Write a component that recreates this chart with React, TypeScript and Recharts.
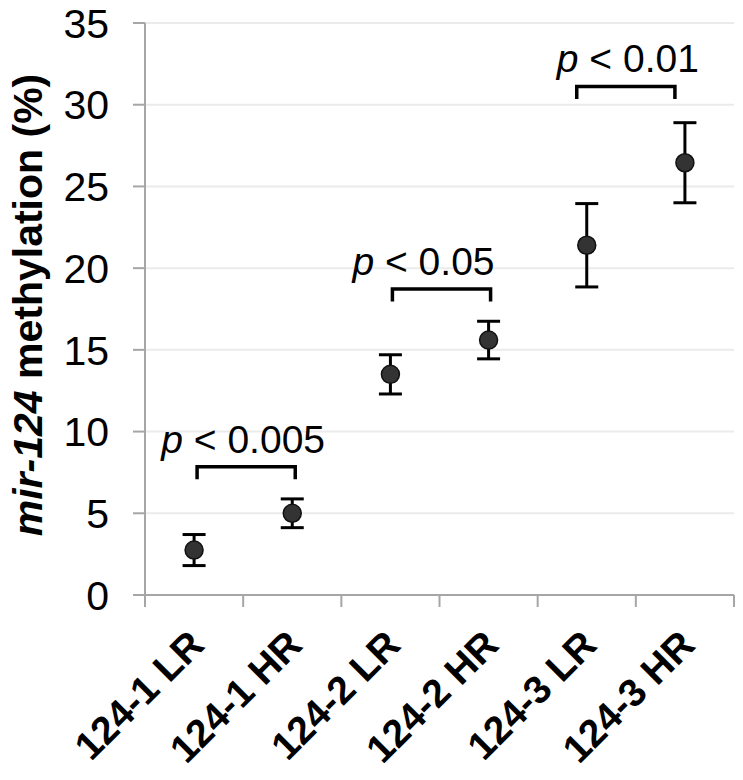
import React from 'react';
import {
  ComposedChart,
  Line,
  XAxis,
  YAxis,
  CartesianGrid,
  ErrorBar,
  ReferenceLine,
} from 'recharts';

// ---- data ----
const categories = ['124-1 LR', '124-1 HR', '124-2 LR', '124-2 HR', '124-3 LR', '124-3 HR'];
const meanValues = [2.75, 5.0, 13.5, 15.6, 21.4, 26.45];
const errorValues = [0.95, 0.88, 1.2, 1.15, 2.55, 2.45];
const yTickValues = [0, 5, 10, 15, 20, 25, 30, 35];
const bracketLeft = [0, 2, 4];
const bracketRight = [1, 3, 5];
const bracketLevels = [7.85, 18.72, 31.12];
const pThresholds = ['0.005', '0.05', '0.01'];

const data = categories.map((name, i) => ({ name, value: meanValues[i], err: errorValues[i] }));

// ---- style ----
const FONT = '"Liberation Sans", Arial, Helvetica, sans-serif';
const AXIS_GRAY = '#a6a6a6';
const GRID_GRAY = '#ebebeb';
const LABEL_NUDGE = [-3, -18, 2];
const BRACKET_NUDGE = [3, 2, -10];

const XTick = (props: any) => {
  const { x, y, payload, index } = props;
  const half = payload && typeof payload.offset === 'number' && payload.offset > 0 ? payload.offset : 49;
  const isLast = index === categories.length - 1;
  const ax = x + 12;
  const ay = y + 52;
  return (
    <g>
      <line x1={x - half} y1={y} x2={x - half} y2={y + 12} stroke={AXIS_GRAY} strokeWidth={2} />
      {isLast && <line x1={x + half} y1={y} x2={x + half} y2={y + 12} stroke={AXIS_GRAY} strokeWidth={2} />}
      <text
        x={ax}
        y={ay}
        transform={`rotate(-45, ${ax}, ${ay})`}
        textAnchor="end"
        fontFamily={FONT}
        fontWeight="bold"
        fontSize={39}
        fill="#000"
      >
        {payload.value}
      </text>
    </g>
  );
};

const YTick = (props: any) => {
  const { x, y, payload } = props;
  return (
    <text x={x} y={y} dy="0.36em" textAnchor="end" fontFamily={FONT} fontSize={41} fill="#000">
      {payload.value}
    </text>
  );
};

const makeBracket = (k: number) => (props: any) => {
  const { x1, y1, x2 } = props;
  const dx = BRACKET_NUDGE[k];
  const a = x1 + dx;
  const b = x2 + dx;
  const leg = 12.5;
  const cx = (a + b) / 2 + LABEL_NUDGE[k];
  return (
    <g>
      <path
        d={`M${a},${y1 + leg} L${a},${y1} L${b},${y1} L${b},${y1 + leg}`}
        fill="none"
        stroke="#000"
        strokeWidth={3.5}
      />
      <text x={cx} y={y1 - 14} textAnchor="middle" fontFamily={FONT} fontSize={39} fill="#000">
        <tspan fontStyle="italic">p</tspan>
        {' < ' + pThresholds[k]}
      </text>
    </g>
  );
};

const YLabel = (props: any) => {
  const vb = props.viewBox || { y: 23, height: 572 };
  const lx = 42;
  const ly = vb.y + vb.height / 2 - 4;
  return (
    <text
      x={lx}
      y={ly}
      transform={`rotate(-90, ${lx}, ${ly})`}
      textAnchor="middle"
      fontFamily={FONT}
      fontWeight="bold"
      fontSize={41}
      fill="#000"
    >
      <tspan fontStyle="italic">mir-124</tspan> methylation (%)
    </text>
  );
};

const Dot = (props: any) => {
  const { cx, cy, index } = props;
  if (cx == null || cy == null) return <g key={`d${index}`} />;
  return <circle key={`d${index}`} cx={cx} cy={cy} r={9} fill="#333333" stroke="#111" strokeWidth={1.5} />;
};

export default function App() {
  return (
    <div style={{ position: 'absolute', left: 0, top: 0, width: 743, height: 780, background: '#fff' }}>
      <ComposedChart
        width={743}
        height={780}
        data={data}
        margin={{ top: 23, right: 9, left: 0, bottom: 0 }}
        style={{ fontFamily: FONT }}
      >
        <CartesianGrid vertical={false} stroke={GRID_GRAY} strokeWidth={2} />
        <XAxis
          dataKey="name"
          type="category"
          scale="band"
          height={185}
          interval={0}
          tickSize={0}
          tickMargin={0}
          tickLine={false}
          axisLine={{ stroke: AXIS_GRAY, strokeWidth: 2 }}
          tick={<XTick />}
        />
        <YAxis
          type="number"
          domain={[0, 35]}
          ticks={yTickValues}
          width={145}
          tickSize={12}
          tickMargin={24}
          interval={0}
          axisLine={{ stroke: AXIS_GRAY, strokeWidth: 2 }}
          tickLine={{ stroke: AXIS_GRAY, strokeWidth: 2 }}
          tick={<YTick />}
          label={{ content: <YLabel /> }}
        />
        {bracketLevels.map((lvl, k) => (
          <ReferenceLine
            key={`br${k}`}
            segment={[
              { x: categories[bracketLeft[k]], y: lvl },
              { x: categories[bracketRight[k]], y: lvl },
            ]}
            shape={makeBracket(k)}
            ifOverflow="visible"
          />
        ))}
        <Line
          dataKey="value"
          stroke="none"
          dot={<Dot />}
          activeDot={false}
          isAnimationActive={false}
        >
          <ErrorBar dataKey="err" direction="y" width={11.5} stroke="#000" strokeWidth={3} />
        </Line>
      </ComposedChart>
    </div>
  );
}
